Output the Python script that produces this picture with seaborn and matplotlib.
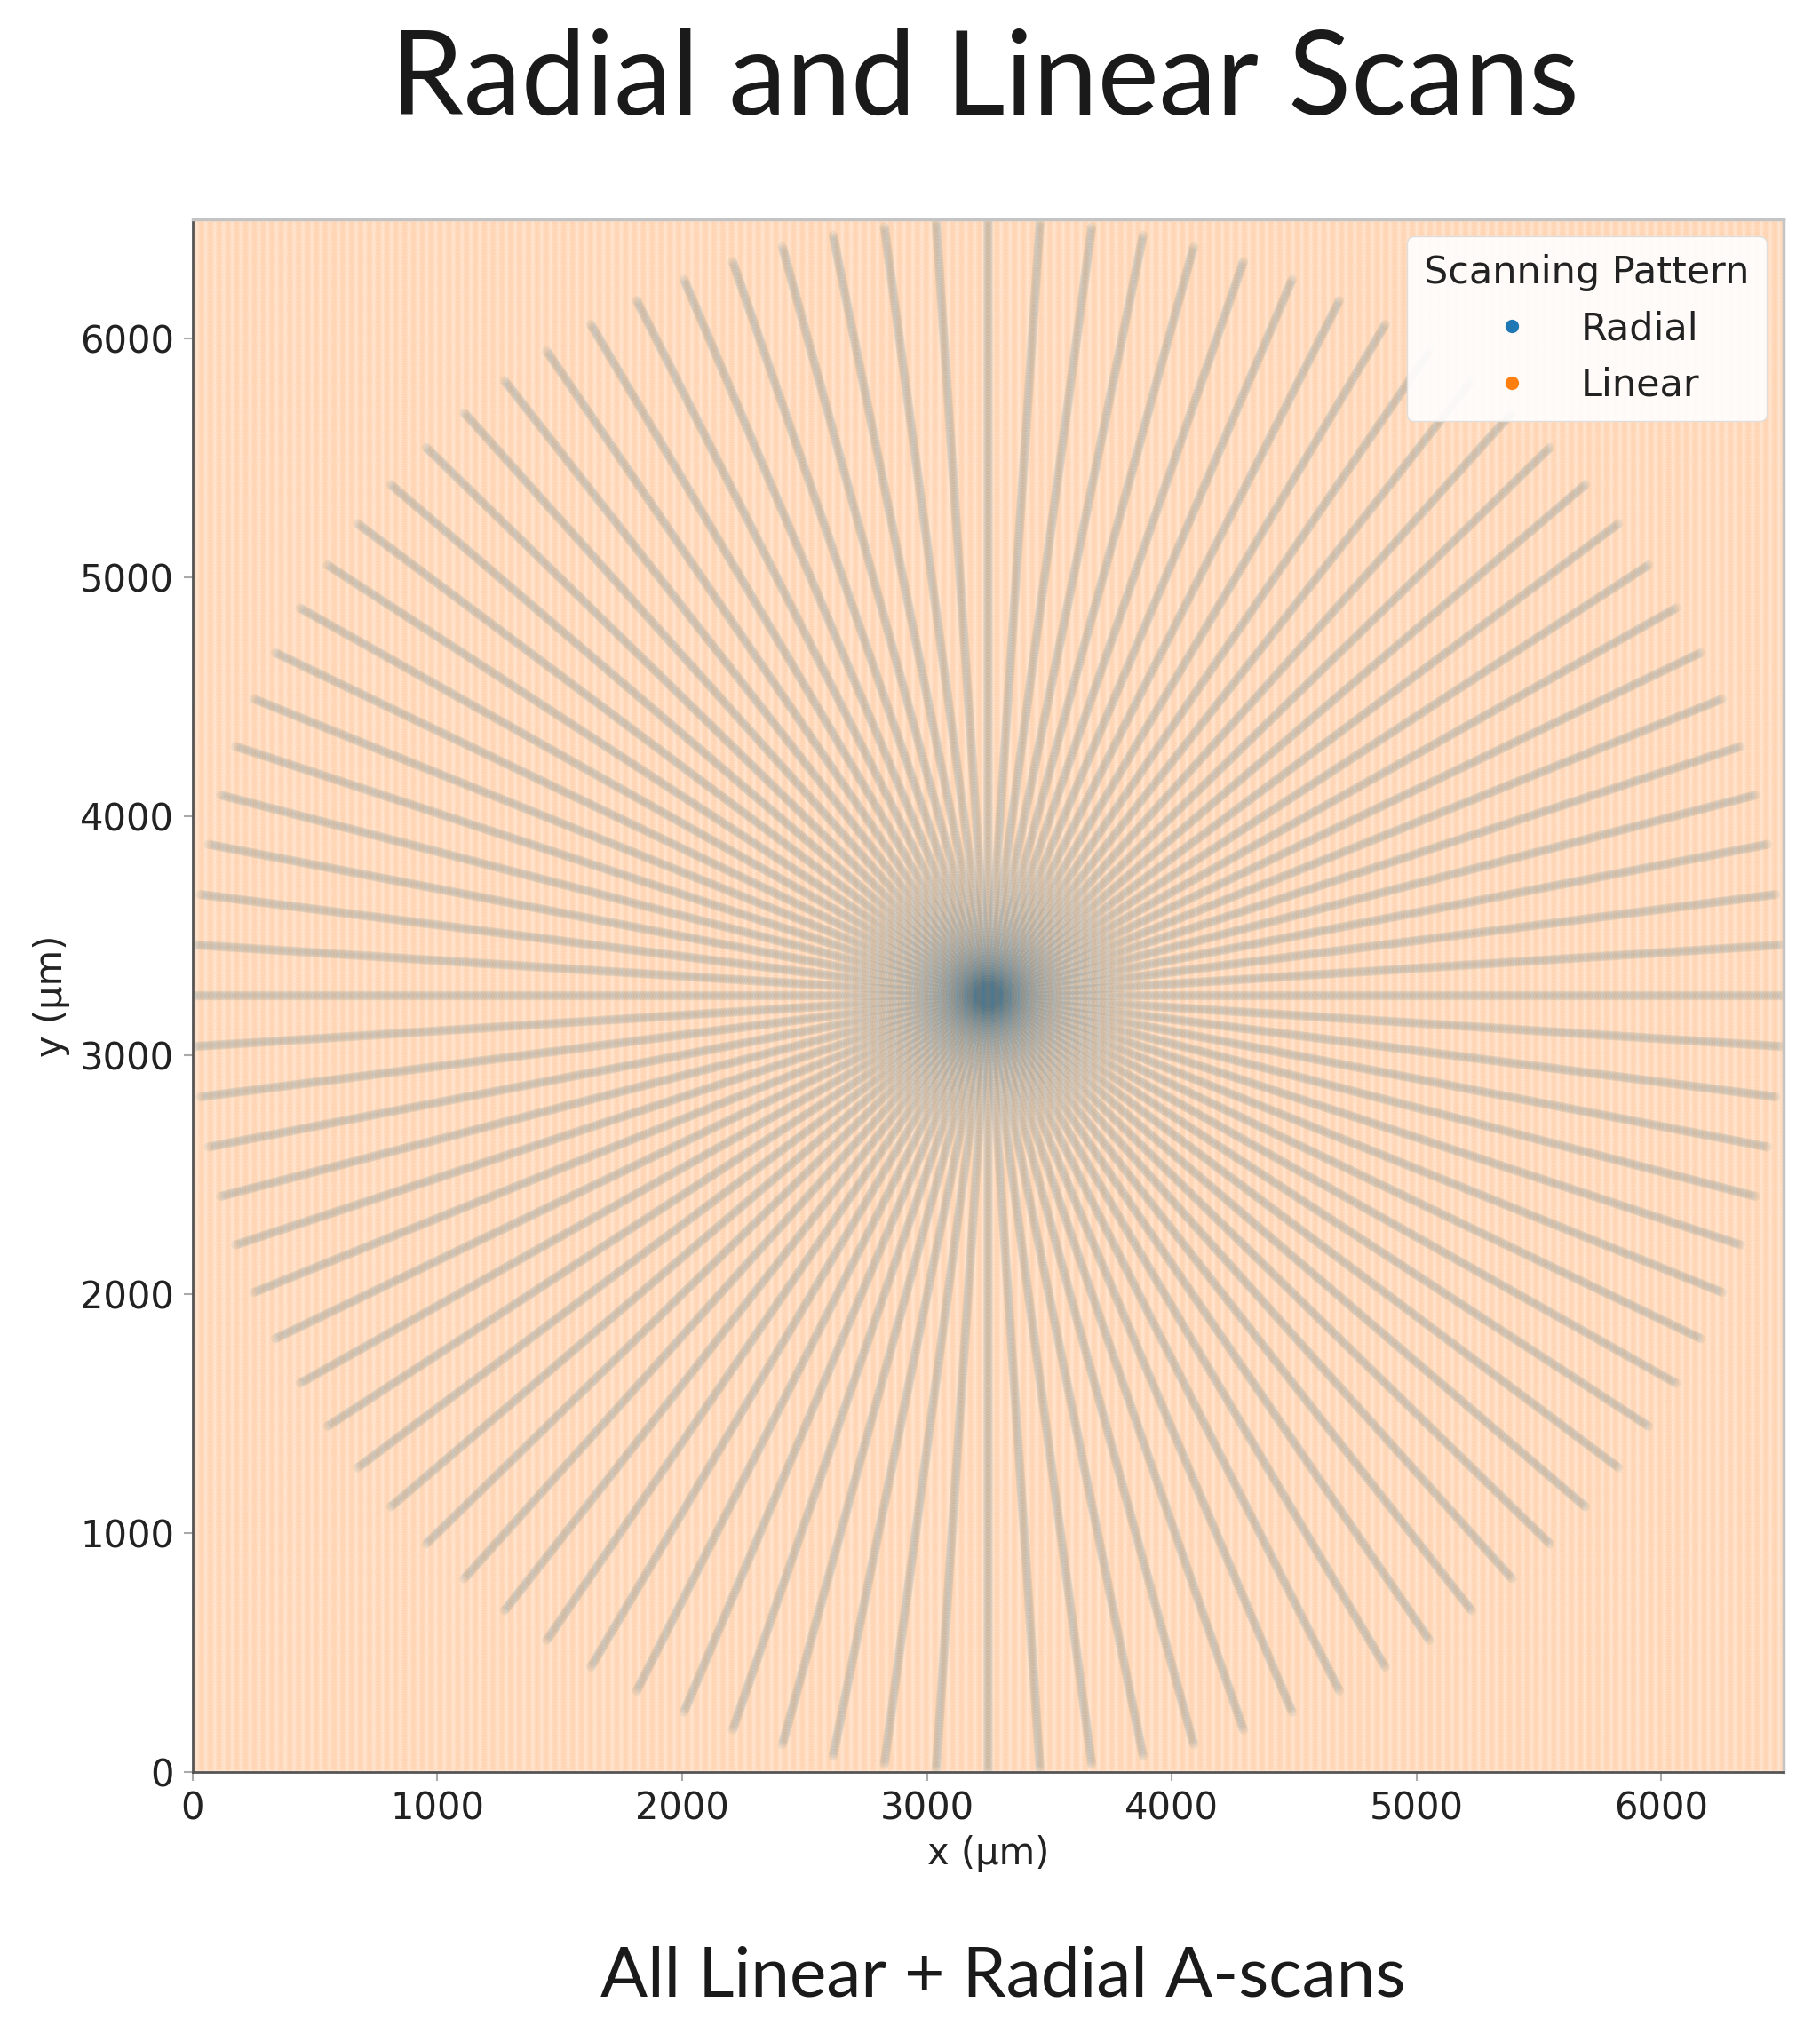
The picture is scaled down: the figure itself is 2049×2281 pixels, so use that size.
import numpy as np
import pandas as pd
import matplotlib
matplotlib.use("Agg")
import matplotlib.pyplot as plt
import seaborn as sns
from matplotlib.lines import Line2D
from matplotlib import font_manager as fm

# ---- scan pattern description ----
FIELD_UM = 6500.0                 # scanned field, x and y extent (µm)
CENTER_UM = (3250.0, 3250.0)      # centre of the radial pattern
RAY_LENGTH_UM = 3250.0            # length of each radial A-scan line
N_RAYS = 96                       # number of radial rays (3.75° apart)
RAY_SAMPLE_UM = 11.0              # sampling step along a ray
LINE_COUNT = 181                  # number of linear (vertical) scan lines
LINE_SAMPLE_UM = 10.0             # sampling step along a linear scan line
PATTERNS = ["Radial", "Linear"]
TICKS = [0, 1000, 2000, 3000, 4000, 5000, 6000]
TITLE = "Radial and Linear Scans"
CAPTION = "All Linear + Radial A-scans"

# ---- build the A-scan positions ----
angles = np.deg2rad(np.arange(N_RAYS) * 360.0 / N_RAYS)
radii = np.arange(0.0, RAY_LENGTH_UM + 1e-6, RAY_SAMPLE_UM)
A, R = np.meshgrid(angles, radii)
radial = pd.DataFrame({
    "x": (CENTER_UM[0] + R * np.cos(A)).ravel(),
    "y": (CENTER_UM[1] + R * np.sin(A)).ravel(),
    "Scanning Pattern": "Radial",
})
line_x = np.linspace(0.0, FIELD_UM, LINE_COUNT)
line_y = np.arange(0.0, FIELD_UM + 1e-6, LINE_SAMPLE_UM)
LX, LY = np.meshgrid(line_x, line_y)
linear = pd.DataFrame({"x": LX.ravel(), "y": LY.ravel(), "Scanning Pattern": "Linear"})
df = pd.concat([radial, linear], ignore_index=True)

# ---- fonts ----
avail = {f.name for f in fm.fontManager.ttflist}
def pick(names):
    for n in names:
        if n in avail:
            return n
    return "DejaVu Sans"
head_font = pick(["Liberation Sans Narrow", "Lato", "Open Sans", "DejaVu Sans"])

sns.set_style("white")
plt.rcParams["font.family"] = ["DejaVu Sans"]

fig = plt.figure(figsize=(20.49, 22.81), dpi=100)
ax = fig.add_axes([0.1058, 0.1254, 0.8742, 0.7663])

palette = sns.color_palette("tab10", 2)
sns.scatterplot(data=df, x="x", y="y", hue="Scanning Pattern", hue_order=PATTERNS,
                palette=palette, s=60, alpha=0.085, linewidth=0, ax=ax, legend=False)

ax.set_xlim(0, FIELD_UM)
ax.set_ylim(0, FIELD_UM)
ax.set_xticks(TICKS)
ax.set_yticks(TICKS)
ax.tick_params(axis="both", labelsize=30, length=7, width=1.5, color="#aaaaaa",
               labelcolor="#222222", pad=8, left=True, bottom=True)
ax.set_xlabel("x (µm)", fontsize=30, color="#222222", labelpad=6)
ax.set_ylabel("y (µm)", fontsize=30, color="#222222", labelpad=8)
for side in ["left", "bottom"]:
    ax.spines[side].set_color("#555555")
    ax.spines[side].set_linewidth(2)
for side in ["top", "right"]:
    ax.spines[side].set_color("#c4c4c4")
    ax.spines[side].set_linewidth(2.5)

handles = [Line2D([], [], marker="o", linestyle="", color=palette[i], markersize=11,
                  markeredgewidth=0, label=p) for i, p in enumerate(PATTERNS)]
leg = ax.legend(handles=handles, title="Scanning Pattern", loc="upper right",
                fontsize=31, title_fontsize=31, frameon=True, framealpha=0.9,
                edgecolor="#dddddd", fancybox=True, borderpad=0.45, labelspacing=0.5,
                borderaxespad=0.45)
leg.get_title().set_color("#222222")
for t in leg.get_texts():
    t.set_color("#222222")

fig.text(0.541, 0.9435, TITLE, family=head_font, fontsize=94, color="#1a1a1a",
         ha="center", va="baseline")
fig.text(0.551, 0.0149, CAPTION, family=head_font, fontsize=56.5, color="#1a1a1a",
         ha="center", va="baseline")

fig.savefig("out.png", dpi=100)
